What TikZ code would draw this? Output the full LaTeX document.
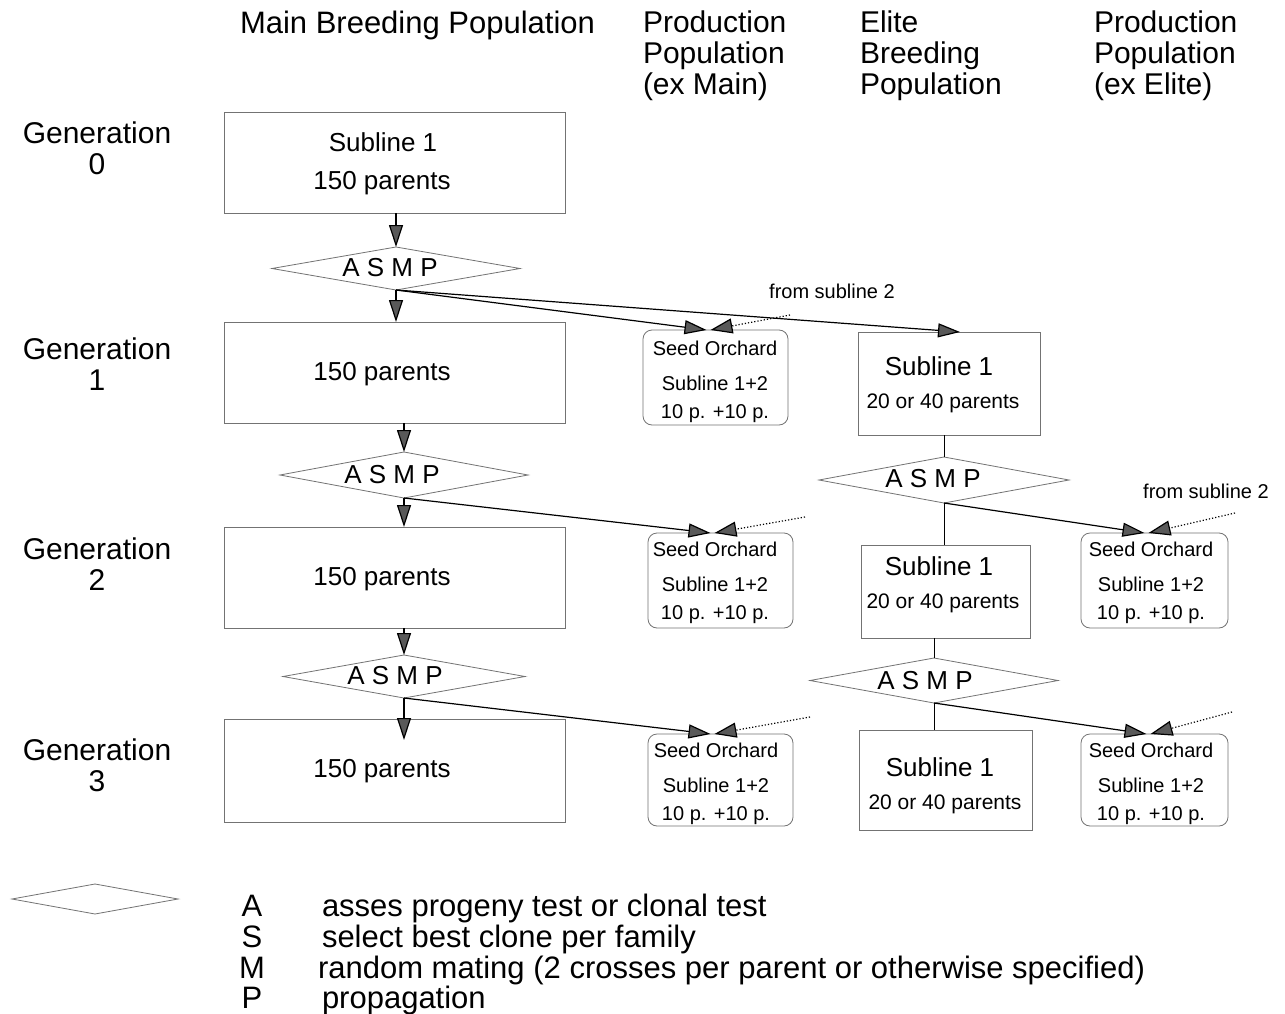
\documentclass[tikz,border=0pt]{standalone}
\usepackage{fontspec}
\setmainfont{Liberation Sans}
\usetikzlibrary{shapes.geometric,arrows.meta,calc}
\begin{document}
\begin{tikzpicture}[x=1pt,y=-1pt,
  every node/.append style={inner sep=0pt, outer sep=0pt},
  fA/.style={font=\fontsize{30}{31}\selectfont},
  fL/.style={font=\fontsize{31}{31}\selectfont},
  fB/.style={font=\fontsize{26}{30}\selectfont},
  fC/.style={font=\fontsize{20}{24}\selectfont},
  fD/.style={font=\fontsize{21}{24}\selectfont},
  rbox/.style={draw=black!55, line width=0.8pt},
  sobox/.style={rbox, rounded corners=9pt},
  dia/.style={diamond, draw=black!55, line width=0.8pt},
  arr/.style={draw=black, line width=1.2pt, -{Triangle[length=22pt,width=14pt,fill=black!65]}},
  dotarr/.style={draw=black, line width=1.2pt, dotted, -{Triangle[length=22pt,width=15pt,fill=black!65]}},
  link/.style={draw=black, line width=1pt},
]
\useasboundingbox[fill=white] (0,0) rectangle (1285,1014);

% headers
\node[fL, anchor=west] (h1) at (240,25) {Main Breeding Population};
\node[fA, anchor=west, align=left] (h2) at (643,56) {Production\\Population\\(ex Main)};
\node[fA, anchor=west, align=left] (h3) at (860,56) {Elite\\Breeding\\Population};
\node[fA, anchor=west, align=left] (h4) at (1094,56) {Production\\Population\\(ex Elite)};

% generation labels
\node[fA, align=center] (g0) at (97,148) {Generation\\0};
\node[fA, align=center] (g1) at (97,364) {Generation\\1};
\node[fA, align=center] (g2) at (97,564) {Generation\\2};
\node[fA, align=center] (g3) at (97,765) {Generation\\3};

% main boxes
\node[rbox, minimum width=341pt, minimum height=101pt] (b0) at (394.5,162.5) {};
\node[rbox, minimum width=341pt, minimum height=101pt] (b1) at (394.5,372.5) {};
\node[rbox, minimum width=341pt, minimum height=101pt] (b2) at (394.5,577.5) {};
\node[rbox, minimum width=341pt, minimum height=103pt] (b3) at (394.5,770.5) {};
\node[fB] (t0a) at (383,142) {Subline 1};
\node[fB] (t0b) at (382,183) {150 parents};
\node[fB] (t1) at (382,374) {150 parents};
\node[fB] (t2) at (382,579) {150 parents};
\node[fB] (t3) at (382,771) {150 parents};

% diamonds
\node[dia, minimum width=248pt, minimum height=43pt] (d0) at (396,268.5) {};
\node[dia, minimum width=248pt, minimum height=46pt] (d1) at (404,475) {};
\node[dia, minimum width=242pt, minimum height=43pt] (d2) at (404,676.5) {};
\node[dia, minimum width=250pt, minimum height=46pt] (ed0) at (944,480) {};
\node[dia, minimum width=248pt, minimum height=45pt] (ed1) at (934,680.5) {};
\node[fB] (a0) at (390,268) {A S M P};
\node[fB] (a1) at (392,475) {A S M P};
\node[fB] (a2) at (395,676) {A S M P};
\node[fB] (a3) at (933,479) {A S M P};
\node[fB] (a4) at (925,681) {A S M P};

% seed orchard boxes
\node[sobox, minimum width=145pt, minimum height=95pt] (so1) at (715.5,377.5) {};
\node[sobox, minimum width=145pt, minimum height=95pt] (so2) at (720.5,580.5) {};
\node[sobox, minimum width=145pt, minimum height=92pt] (so3) at (720.5,780) {};
\node[sobox, minimum width=147pt, minimum height=95pt] (so4) at (1154.5,580.5) {};
\node[sobox, minimum width=147pt, minimum height=92pt] (so5) at (1154.5,780) {};
\foreach \n/\x/\y in {so1/715/348, so2/715/549, so3/716/750, so4/1151/549, so5/1151/750}{
  \node[fC] (\n a) at (\x,\y) {Seed Orchard};
  \node[fC] (\n b) at (\x,\y+35) {Subline 1+2};
  \node[fC] (\n c) at (\x,\y+66) {10 p. +10 p.};
}

% elite boxes
\node[rbox, minimum width=182pt, minimum height=103pt] (e1) at (949,383.5) {};
\node[rbox, minimum width=169pt, minimum height=93pt] (e2) at (945.5,591.5) {};
\node[rbox, minimum width=173pt, minimum height=100pt] (e3) at (945.5,780) {};
\node[fB] (e1a) at (939,366) {Subline 1};
\node[fD] (e1b) at (943,403) {20 or 40 parents};
\node[fB] (e2a) at (939,566) {Subline 1};
\node[fD] (e2b) at (943,603) {20 or 40 parents};
\node[fB] (e3a) at (940,767) {Subline 1};
\node[fD] (e3b) at (945,804) {20 or 40 parents};

% from subline 2 labels
\node[fC] (fs1) at (832,291) {from subline 2};
\node[fC] (fs2) at (1206,491) {from subline 2};
\coordinate (c1) at (790,315);
\coordinate (c2) at (805,517);
\coordinate (c3) at (810,717);
\coordinate (c4) at (1235,513);
\coordinate (c5) at (1232,712);

% main column connectors
\draw[arr] (b0.south -| d0.north) -- (d0.north);
\draw[arr] (d0.south) -- (d0.south |- b1.north);
\draw[arr] (d1.north |- b1.south) -- (d1.north);
\draw[arr] (d1.south) -- (d1.south |- b2.north);
\draw[arr] (d2.north |- b2.south) -- (d2.north);
\draw[arr] (d2.south) -- ($(d2.south |- b3.north)+(0,21)$);

% to seed orchards
\draw[arr] (d0.south) -- ([xshift=-9pt]so1.north);
\draw[arr] (d0.south) -- ([xshift=11pt]e1.north);
\draw[dotarr] (c1) -- ([xshift=-5pt]so1.north);
\draw[arr] (d1.south) -- ([xshift=-10pt]so2.north);
\draw[dotarr] (c2) -- ([xshift=-6pt]so2.north);
\draw[arr] (d2.south) -- ([xshift=-10pt]so3.north);
\draw[dotarr] (c3) -- ([xshift=-6pt]so3.north);

% elite column
\draw[link] (ed0.north |- e1.south) -- (ed0.north);
\draw[link] (ed0.south) -- (ed0.south |- e2.north);
\draw[arr] (ed0.south) -- ([xshift=-10pt]so4.north);
\draw[dotarr] (c4) -- ([xshift=-6pt]so4.north);
\draw[link] (ed1.north |- e2.south) -- (ed1.north);
\draw[link] (ed1.south) -- (ed1.south |- e3.north);
\draw[arr] (ed1.south) -- ([xshift=-8pt]so5.north);
\draw[dotarr] (c5) -- ([xshift=-4pt]so5.north);

% legend
\node[dia, minimum width=166pt, minimum height=30pt] (ld) at (95,899) {};
\node[fL, anchor=base] (la) at (252,916) {A};
\node[fL, anchor=base] (ls) at (252,947) {S};
\node[fL, anchor=base] (lm) at (252,978) {M};
\node[fL, anchor=base] (lp) at (252,1008) {P};
\node[fL, anchor=base west] (lta) at (322,916) {asses progeny test or clonal test};
\node[fL, anchor=base west] (lts) at (322,947) {select best clone per family};
\node[fL, anchor=base west] (ltm) at (318,978) {random mating (2 crosses per parent or otherwise specified)};
\node[fL, anchor=base west] (ltp) at (322,1008) {propagation};
\end{tikzpicture}
\end{document}
